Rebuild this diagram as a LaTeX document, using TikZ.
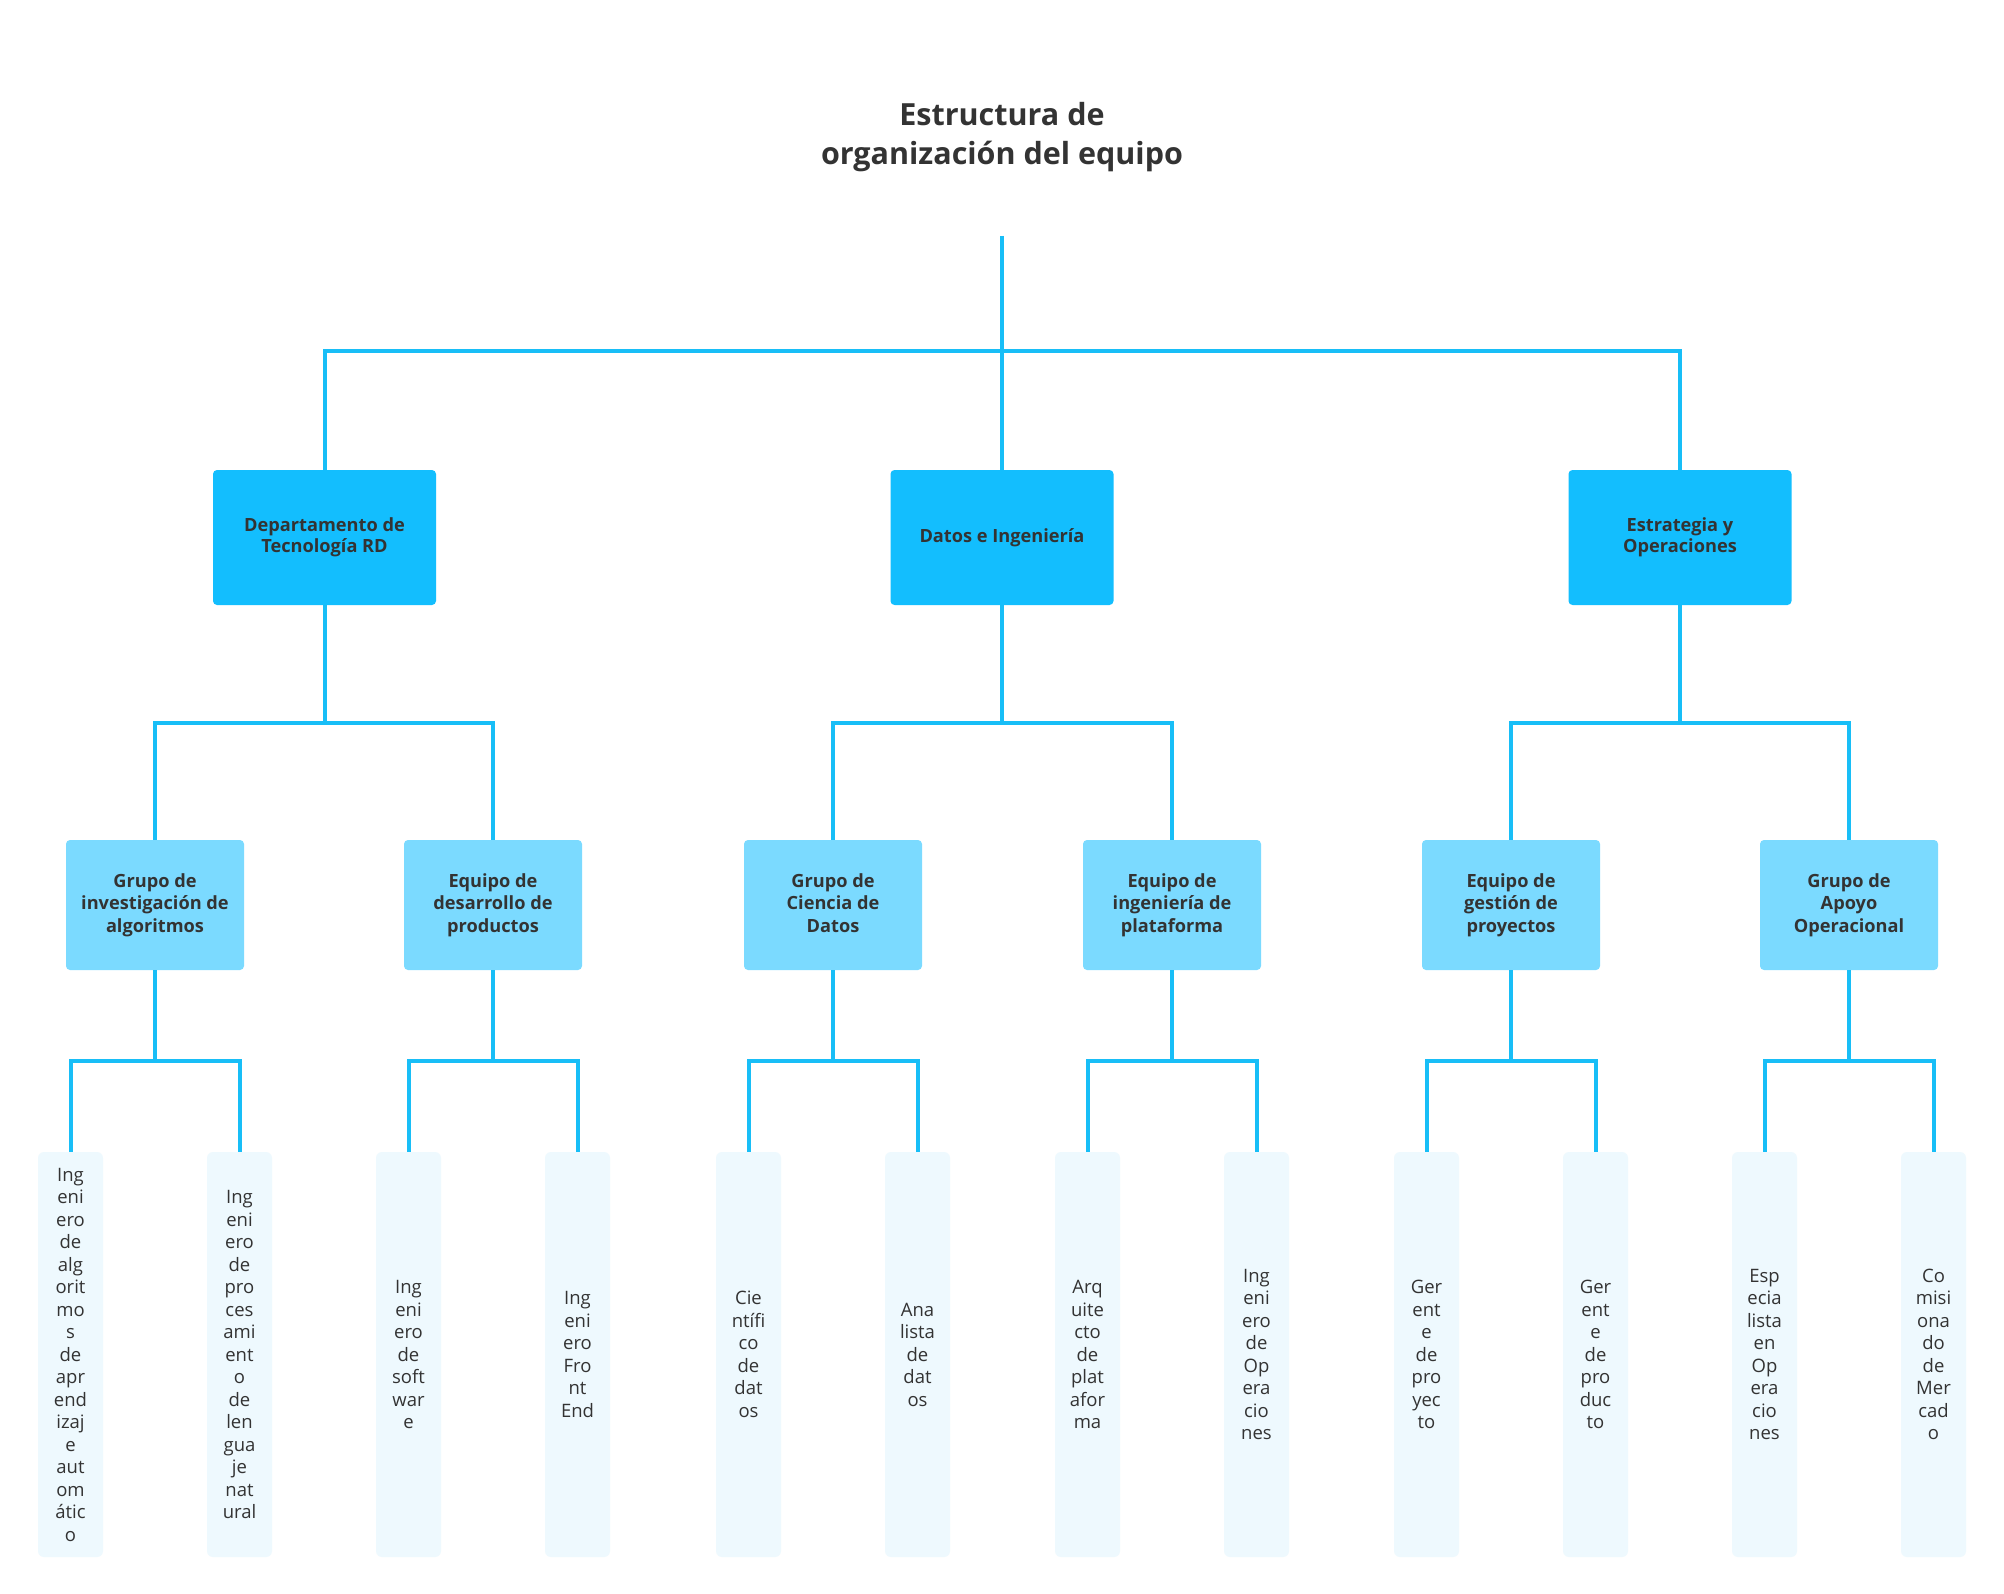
\documentclass[tikz,border=0pt]{standalone}
\usepackage{fontspec}
\setmainfont{Open Sans}
\definecolor{lineC}{HTML}{18BEF7}
\definecolor{l1C}{HTML}{13BEFE}
\definecolor{l2C}{HTML}{7BDAFF}
\definecolor{leafC}{HTML}{EEF9FE}
\definecolor{txt}{HTML}{333333}
\begin{document}
\begin{tikzpicture}[x=1pt,y=-1pt,
  conn/.style={draw=lineC,line width=4pt},
  lone/.style={fill=l1C,rounded corners=4pt,minimum width=223pt,minimum height=135pt,inner sep=0pt,align=center,text=txt,font=\bfseries\fontsize{18.2}{21.5}\selectfont},
  ltwo/.style={fill=l2C,rounded corners=4pt,minimum width=178pt,minimum height=130pt,inner sep=0pt,align=center,text=txt,font=\bfseries\fontsize{18.2}{22.5}\selectfont},
  leaf/.style={fill=leafC,rounded corners=6pt,minimum width=65pt,minimum height=405pt,inner sep=0pt,align=center,text=txt,font=\fontsize{18.5}{22.5}\selectfont},
  ttl/.style={align=center,text=txt,font=\bfseries\fontsize{30.5}{39}\selectfont}]
\useasboundingbox (0,0) rectangle (2004,1594);
\fill[white] (0,0) rectangle (2004,1594);

\node[ttl] (title) at (1002,137) {Estructura de\\organización del equipo};

% level 1
\node[lone] (A) at (324.5,537.5) {Departamento de\\Tecnología RD};
\node[lone] (B) at (1002,537.5) {Datos e Ingeniería};
\node[lone] (C) at (1680,537.5) {Estrategia y\\Operaciones};

% level 2
\node[ltwo] (A1) at (155,905) {Grupo de\\investigación de\\algoritmos};
\node[ltwo] (A2) at (493,905) {Equipo de\\desarrollo de\\productos};
\node[ltwo] (B1) at (833,905) {Grupo de\\Ciencia de\\Datos\vphantom{g}};
\node[ltwo] (B2) at (1172,905) {Equipo de\\ingeniería de\\plataforma};
\node[ltwo] (C1) at (1511,905) {Equipo de\\gestión de\\proyectos};
\node[ltwo] (C2) at (1849,905) {Grupo de\\Apoyo\\Operacional};

% leaves
\node[leaf] (A1a) at (70.5,1354.5) {Ing\\eni\\ero\\de\\alg\\orit\\mo\\s\\de\\apr\\end\\izaj\\e\\aut\\om\\átic\\o};
\node[leaf] (A1b) at (239.5,1354.5) {Ing\\eni\\ero\\de\\pro\\ces\\ami\\ent\\o\\de\\len\\gua\\je\\nat\\ural};
\node[leaf] (A2a) at (408.5,1354.5) {Ing\\eni\\ero\\de\\soft\\war\\e};
\node[leaf] (A2b) at (577.5,1354.5) {Ing\\eni\\ero\\Fro\\nt\\End};
\node[leaf] (B1a) at (748.5,1354.5) {Cie\\ntífi\\co\\de\\dat\\os};
\node[leaf] (B1b) at (917.5,1354.5) {Ana\\lista\\de\\dat\\os};
\node[leaf] (B2a) at (1087.5,1354.5) {Arq\\uite\\cto\\de\\plat\\afor\\ma};
\node[leaf] (B2b) at (1256.5,1354.5) {Ing\\eni\\ero\\de\\Op\\era\\cio\\nes};
\node[leaf] (C1a) at (1426.5,1354.5) {Ger\\ent\\e\\de\\pro\\yec\\to};
\node[leaf] (C1b) at (1595.5,1354.5) {Ger\\ent\\e\\de\\pro\\duc\\to};
\node[leaf] (C2a) at (1764.5,1354.5) {Esp\\ecia\\lista\\en\\Op\\era\\cio\\nes};
\node[leaf] (C2b) at (1933.5,1354.5) {Co\\misi\\ona\\do\\de\\Mer\\cad\\o};

% connectors
\coordinate (top) at (1002,236);
\coordinate (bus0) at (1002,351);
\draw[conn] (top) -- (B);
\draw[conn] (A) |- (bus0) -| (C);

\coordinate (busA) at (324.5,723);
\coordinate (busB) at (1002,723);
\coordinate (busC) at (1680,723);
\draw[conn] (A) -- (busA);
\draw[conn] (A1) |- (busA) -| (A2);
\draw[conn] (B) -- (busB);
\draw[conn] (B1) |- (busB) -| (B2);
\draw[conn] (C) -- (busC);
\draw[conn] (C1) |- (busC) -| (C2);

\foreach \p/\a/\b in {A1/A1a/A1b,A2/A2a/A2b,B1/B1a/B1b,B2/B2a/B2b,C1/C1a/C1b,C2/C2a/C2b}{
  \coordinate (bus\p) at (\p.center |- 0,1061);
  \draw[conn] (\p) -- (bus\p);
  \draw[conn] (\a) |- (bus\p) -| (\b);
}
\end{tikzpicture}
\end{document}
